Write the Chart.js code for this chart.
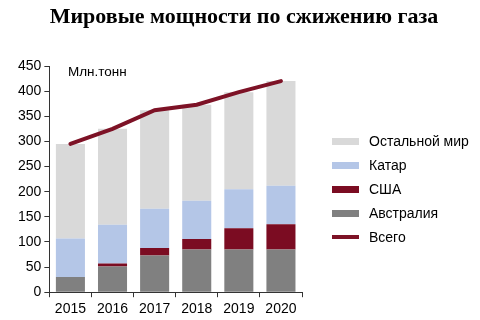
<!DOCTYPE html>
<html lang="ru">
<head>
<meta charset="utf-8">
<script src="https://cdn.jsdelivr.net/npm/chart.js@4.4.1/dist/chart.umd.min.js"></script>
<style>
  html, body { margin: 0; padding: 0; background: #fff; }
  #wrap { position: relative; width: 480px; height: 320px; overflow: hidden; }
  #title { position: absolute; left: 0; width: 488px; top: 3px; text-align: center;
           font-family: "Liberation Serif", "Times New Roman", serif; font-weight: bold; font-size: 22px; color: #000; }
  #unit { position: absolute; left: 68px; top: 64px; font-family: "Liberation Sans", Arial, sans-serif;
          font-size: 13.5px; color: #000; }
  #chartBox { position: absolute; left: 0; top: 0; width: 480px; height: 324px; }
  #legend { position: absolute; left: 332px; top: 129px; font-family: "Liberation Sans", Arial, sans-serif;
            font-size: 14px; color: #000; }
  .item { height: 24px; display: flex; align-items: center; }
  .swatch { width: 27px; margin-right: 10px; }
</style>
</head>
<body>
<div id="wrap">
  <div id="chartBox"><canvas id="c" width="480" height="324"></canvas></div>
  <div id="title">Мировые мощности по сжижению газа</div>
  <div id="unit">Млн.тонн</div>
  <div id="legend"></div>
</div>
<script>
// Years on the x axis
const years = ['2015', '2016', '2017', '2018', '2019', '2020'];

// Liquefaction capacity, million tonnes per year
const australia = [30, 51, 73, 85, 85, 85];
const usa       = [0, 6, 15, 21, 42, 50];
const qatar     = [77, 77, 78, 76, 78, 77];
const restWorld = [188, 191, 196, 191, 193, 208];
const total     = [295, 325, 362, 373, 398, 420];

// Y axis ticks
const yTicks = [0, 50, 100, 150, 200, 250, 300, 350, 400, 450];

const colors = {
  rest: '#d9d9d9',
  qatar: '#b4c6e7',
  usa: '#7b0c22',
  australia: '#808080',
  total: '#7d1226'
};

const font = { family: '"Liberation Sans", Arial, sans-serif', size: 14 };

const barDefaults = { categoryPercentage: 1, barPercentage: 0.69, borderWidth: 0, stack: 'capacity' };

const datasets = [
  { type: 'line', label: 'Всего', data: total, borderColor: colors.total, borderWidth: 4,
    pointRadius: 0, tension: 0, fill: false, stack: 'total', borderCapStyle: 'round' },
  { type: 'bar', label: 'Австралия', data: australia, backgroundColor: colors.australia, ...barDefaults },
  { type: 'bar', label: 'США', data: usa, backgroundColor: colors.usa, ...barDefaults },
  { type: 'bar', label: 'Катар', data: qatar, backgroundColor: colors.qatar, ...barDefaults },
  { type: 'bar', label: 'Остальной мир', data: restWorld, backgroundColor: colors.rest, ...barDefaults }
];

new Chart(document.getElementById('c'), {
  data: { labels: years, datasets },
  options: {
    responsive: false,
    animation: false,
    layout: { padding: { left: 15, top: 66, right: 178, bottom: 2 } },
    plugins: { legend: { display: false }, tooltip: { enabled: false } },
    scales: {
      x: {
        stacked: true,
        offset: true,
        grid: { display: true, offset: true, drawOnChartArea: false, drawTicks: true,
                tickLength: 5, color: '#333', tickWidth: 1 },
        border: { display: true, color: '#333', width: 1 },
        ticks: { font, color: '#000', padding: 4, maxRotation: 0 }
      },
      y: {
        stacked: true,
        min: 0,
        max: 450,
        afterBuildTicks: (axis) => { axis.ticks = yTicks.map(v => ({ value: v })); },
        grid: { display: true, drawOnChartArea: false, drawTicks: true, tickLength: 5,
                color: '#333', tickWidth: 1 },
        border: { display: true, color: '#333', width: 1 },
        ticks: { font, color: '#000', padding: 3 }
      }
    }
  }
});

// Legend, listed top to bottom in the order of the stack
const legendEl = document.getElementById('legend');
const legendItems = [
  { label: 'Остальной мир', color: colors.rest, h: 7 },
  { label: 'Катар', color: colors.qatar, h: 7 },
  { label: 'США', color: colors.usa, h: 7 },
  { label: 'Австралия', color: colors.australia, h: 7 },
  { label: 'Всего', color: colors.total, h: 4 }
];
legendItems.forEach(it => {
  const row = document.createElement('div');
  row.className = 'item';
  const sw = document.createElement('span');
  sw.className = 'swatch';
  sw.style.height = it.h + 'px';
  sw.style.background = it.color;
  const tx = document.createElement('span');
  tx.textContent = it.label;
  row.appendChild(sw);
  row.appendChild(tx);
  legendEl.appendChild(row);
});
</script>
</body>
</html>
